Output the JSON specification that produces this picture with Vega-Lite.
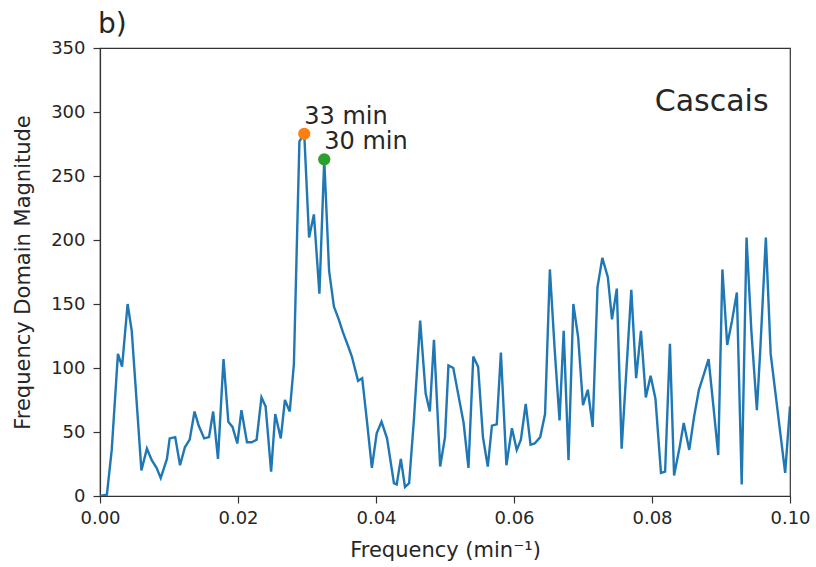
{
  "$schema": "https://vega.github.io/schema/vega-lite/v6.json",
  "autosize": {"type": "none"},
  "width": 690,
  "height": 448,
  "padding": {"left": 100, "top": 48, "right": 26, "bottom": 71},
  "background": "white",
  "config": {
    "font": "DejaVu Sans",
    "view": {"stroke": "#333333", "strokeWidth": 1.2},
    "axis": {
      "domainColor": "#333333", "tickColor": "#333333", "domainWidth": 1.2, "tickWidth": 1.2,
      "tickSize": 7, "labelColor": "#262626", "titleColor": "#262626",
      "labelFontSize": 18, "titleFontSize": 21, "titleFontWeight": "normal", "grid": false,
      "labelFont": "DejaVu Sans", "titleFont": "DejaVu Sans", "labelFlush": false
    }
  },
  "datasets": {
    "spec": [
      {"f": 0.0000, "mag": 0}, {"f": 0.0010, "mag": 1}, {"f": 0.0017, "mag": 36}, {"f": 0.0026, "mag": 111},
      {"f": 0.0032, "mag": 101}, {"f": 0.0040, "mag": 150}, {"f": 0.0046, "mag": 129}, {"f": 0.0060, "mag": 20},
      {"f": 0.0068, "mag": 37}, {"f": 0.0075, "mag": 28}, {"f": 0.0082, "mag": 22}, {"f": 0.0088, "mag": 14},
      {"f": 0.0097, "mag": 29}, {"f": 0.0101, "mag": 45}, {"f": 0.0109, "mag": 46}, {"f": 0.0116, "mag": 24},
      {"f": 0.0123, "mag": 38}, {"f": 0.0130, "mag": 44}, {"f": 0.0137, "mag": 66}, {"f": 0.0143, "mag": 55},
      {"f": 0.0151, "mag": 45}, {"f": 0.0158, "mag": 46}, {"f": 0.0164, "mag": 66}, {"f": 0.0171, "mag": 29},
      {"f": 0.0179, "mag": 107}, {"f": 0.0186, "mag": 58}, {"f": 0.0192, "mag": 54}, {"f": 0.0199, "mag": 41},
      {"f": 0.0205, "mag": 67}, {"f": 0.0213, "mag": 42}, {"f": 0.0220, "mag": 42}, {"f": 0.0227, "mag": 44},
      {"f": 0.0234, "mag": 77}, {"f": 0.0240, "mag": 70}, {"f": 0.0248, "mag": 19}, {"f": 0.0254, "mag": 64},
      {"f": 0.0262, "mag": 45}, {"f": 0.0268, "mag": 75}, {"f": 0.0275, "mag": 66}, {"f": 0.0281, "mag": 103},
      {"f": 0.0289, "mag": 277}, {"f": 0.0296, "mag": 283}, {"f": 0.0303, "mag": 202}, {"f": 0.0310, "mag": 220},
      {"f": 0.0318, "mag": 158}, {"f": 0.0325, "mag": 263}, {"f": 0.0332, "mag": 176}, {"f": 0.0339, "mag": 148},
      {"f": 0.0346, "mag": 138}, {"f": 0.0352, "mag": 128}, {"f": 0.0359, "mag": 118}, {"f": 0.0365, "mag": 109},
      {"f": 0.0374, "mag": 90}, {"f": 0.0380, "mag": 92}, {"f": 0.0387, "mag": 58}, {"f": 0.0394, "mag": 22},
      {"f": 0.0401, "mag": 49}, {"f": 0.0408, "mag": 58}, {"f": 0.0416, "mag": 45}, {"f": 0.0426, "mag": 10},
      {"f": 0.0430, "mag": 9}, {"f": 0.0436, "mag": 29}, {"f": 0.0442, "mag": 7}, {"f": 0.0448, "mag": 10},
      {"f": 0.0455, "mag": 60}, {"f": 0.0464, "mag": 137}, {"f": 0.0472, "mag": 80}, {"f": 0.0478, "mag": 66},
      {"f": 0.0484, "mag": 122}, {"f": 0.0493, "mag": 23}, {"f": 0.0500, "mag": 46}, {"f": 0.0505, "mag": 102},
      {"f": 0.0512, "mag": 100}, {"f": 0.0519, "mag": 80}, {"f": 0.0527, "mag": 57}, {"f": 0.0534, "mag": 22},
      {"f": 0.0541, "mag": 109}, {"f": 0.0548, "mag": 101}, {"f": 0.0555, "mag": 46}, {"f": 0.0562, "mag": 23},
      {"f": 0.0568, "mag": 55}, {"f": 0.0575, "mag": 56}, {"f": 0.0581, "mag": 112}, {"f": 0.0589, "mag": 24},
      {"f": 0.0597, "mag": 53}, {"f": 0.0604, "mag": 36}, {"f": 0.0610, "mag": 44}, {"f": 0.0617, "mag": 72},
      {"f": 0.0624, "mag": 40}, {"f": 0.0630, "mag": 41}, {"f": 0.0638, "mag": 46}, {"f": 0.0645, "mag": 64},
      {"f": 0.0652, "mag": 177}, {"f": 0.0659, "mag": 114}, {"f": 0.0666, "mag": 59}, {"f": 0.0672, "mag": 129},
      {"f": 0.0679, "mag": 28}, {"f": 0.0686, "mag": 150}, {"f": 0.0693, "mag": 124}, {"f": 0.0700, "mag": 71},
      {"f": 0.0707, "mag": 83}, {"f": 0.0714, "mag": 54}, {"f": 0.0721, "mag": 163}, {"f": 0.0728, "mag": 186},
      {"f": 0.0736, "mag": 171}, {"f": 0.0742, "mag": 138}, {"f": 0.0749, "mag": 162}, {"f": 0.0756, "mag": 37},
      {"f": 0.0770, "mag": 161}, {"f": 0.0777, "mag": 92}, {"f": 0.0784, "mag": 129}, {"f": 0.0791, "mag": 77},
      {"f": 0.0798, "mag": 94}, {"f": 0.0805, "mag": 76}, {"f": 0.0813, "mag": 18}, {"f": 0.0819, "mag": 19},
      {"f": 0.0826, "mag": 119}, {"f": 0.0832, "mag": 16}, {"f": 0.0840, "mag": 38}, {"f": 0.0846, "mag": 57},
      {"f": 0.0854, "mag": 36}, {"f": 0.0861, "mag": 62}, {"f": 0.0868, "mag": 83}, {"f": 0.0874, "mag": 93},
      {"f": 0.0882, "mag": 107}, {"f": 0.0889, "mag": 70}, {"f": 0.0896, "mag": 32}, {"f": 0.0902, "mag": 177},
      {"f": 0.0909, "mag": 118}, {"f": 0.0916, "mag": 137}, {"f": 0.0923, "mag": 159}, {"f": 0.0930, "mag": 9},
      {"f": 0.0937, "mag": 202}, {"f": 0.0944, "mag": 129}, {"f": 0.0952, "mag": 67}, {"f": 0.0957, "mag": 115},
      {"f": 0.0965, "mag": 202}, {"f": 0.0972, "mag": 111}, {"f": 0.0979, "mag": 80}, {"f": 0.0986, "mag": 49},
      {"f": 0.0993, "mag": 18}, {"f": 0.1000, "mag": 70}
    ],
    "peaks": [
      {"f": 0.0296, "mag": 283, "label": "33 min"},
      {"f": 0.0325, "mag": 263, "label": "30 min"}
    ]
  },
  "layer": [
    {
      "data": {"name": "spec"},
      "mark": {"type": "line", "color": "#1f77b4", "strokeWidth": 2.4, "clip": true},
      "encoding": {
        "x": {"field": "f", "type": "quantitative", "scale": {"domain": [0, 0.1], "nice": false, "zero": false},
              "axis": {"title": "Frequency (min⁻¹)", "format": ".2f", "values": [0, 0.02, 0.04, 0.06, 0.08, 0.1], "labelPadding": 6, "titlePadding": 12}},
        "y": {"field": "mag", "type": "quantitative", "scale": {"domain": [0, 350], "nice": false},
              "axis": {"title": "Frequency Domain Magnitude", "values": [0, 50, 100, 150, 200, 250, 300, 350], "labelPadding": 8, "titlePadding": 17}}
      }
    },
    {
      "data": {"name": "peaks"},
      "mark": {"type": "circle", "size": 150, "opacity": 1},
      "encoding": {
        "x": {"field": "f", "type": "quantitative"},
        "y": {"field": "mag", "type": "quantitative"},
        "color": {"field": "label", "type": "nominal", "scale": {"domain": ["33 min", "30 min"], "range": ["#ff7f0e", "#2ca02c"]}, "legend": null}
      }
    },
    {
      "data": {"name": "peaks"},
      "mark": {"type": "text", "align": "left", "baseline": "alphabetic", "dy": -10, "fontSize": 24, "color": "#262626"},
      "encoding": {
        "x": {"field": "f", "type": "quantitative"},
        "y": {"field": "mag", "type": "quantitative"},
        "text": {"field": "label"}
      }
    },
    {
      "data": {"values": [{"site": "Cascais"}]},
      "mark": {"type": "text", "align": "left", "baseline": "alphabetic", "fontSize": 30, "color": "#262626"},
      "encoding": {
        "x": {"datum": 0.0804},
        "y": {"datum": 301},
        "text": {"field": "site"}
      }
    },
    {
      "data": {"values": [{"panel": "b)"}]},
      "mark": {"type": "text", "align": "left", "baseline": "alphabetic", "fontSize": 28, "color": "#262626", "clip": false, "dx": -2},
      "encoding": {
        "x": {"datum": 0},
        "y": {"datum": 362},
        "text": {"field": "panel"}
      }
    }
  ]
}
